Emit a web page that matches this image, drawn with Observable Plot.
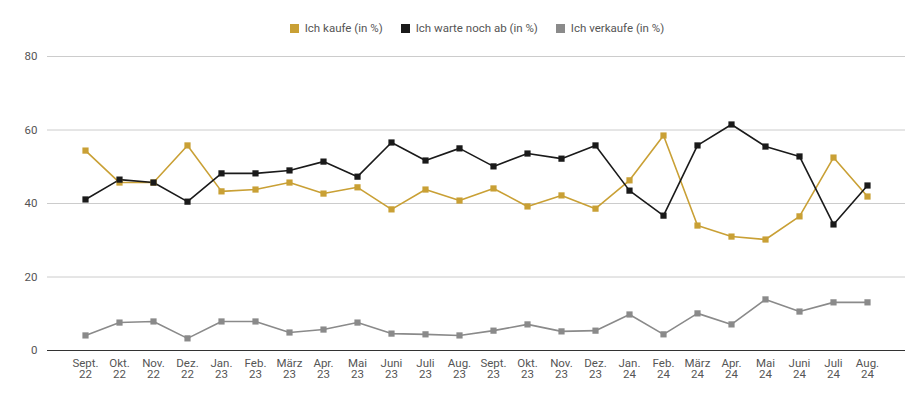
<!DOCTYPE html>
<html><head><meta charset="utf-8">
<script src="https://cdn.jsdelivr.net/npm/d3@7"></script>
<script src="https://cdn.jsdelivr.net/npm/@observablehq/plot@0.6"></script>
<style>
body{margin:0;font-family:Roboto,sans-serif;background:#fff}
#legend{height:40px;display:flex;justify-content:center;align-items:flex-end;gap:18px;font-size:11.5px;color:#555;padding-left:30px;box-sizing:border-box;padding-bottom:5px}
#legend span{display:inline-flex;align-items:center;gap:6px}
#legend i{display:inline-block;width:9px;height:9px}
</style></head><body>
<div id="legend"></div>
<div id="chart"></div>
<script>
const months = ["Sept.\n22","Okt.\n22","Nov.\n22","Dez.\n22","Jan.\n23","Feb.\n23","März\n23","Apr.\n23","Mai\n23","Juni\n23","Juli\n23","Aug.\n23","Sept.\n23","Okt.\n23","Nov.\n23","Dez.\n23","Jan.\n24","Feb.\n24","März\n24","Apr.\n24","Mai\n24","Juni\n24","Juli\n24","Aug.\n24"];
const kaufe = [54.4,45.7,45.7,55.8,43.3,43.8,45.7,42.7,44.4,38.4,43.8,40.8,44.1,39.2,42.2,38.6,46.3,58.5,34.0,31.0,30.2,36.5,52.5,41.9];
const warte = [41.1,46.5,45.7,40.5,48.2,48.2,49.0,51.4,47.3,56.6,51.7,55.0,50.1,53.6,52.2,55.8,43.5,36.7,55.8,61.5,55.5,52.8,34.3,44.9];
const verkaufe = [4.1,7.6,7.9,3.3,7.9,7.9,4.9,5.7,7.6,4.6,4.4,4.1,5.4,7.1,5.2,5.4,9.8,4.4,10.1,7.1,13.9,10.6,13.1,13.1];
const seriesNames = ["Ich kaufe (in %)","Ich warte noch ab (in %)","Ich verkaufe (in %)"];
const colors = ["#c9a035","#1a1a1a","#8a8a8a"];
const all = [kaufe,warte,verkaufe];
const data = all.flatMap((arr,s)=>arr.map((v,i)=>({m:months[i],v,s:seriesNames[s]})));
document.getElementById("legend").innerHTML = seriesNames.map((n,i)=>`<span><i style="background:${colors[i]}"></i>${n}</span>`).join("");
const plot = Plot.plot({
  width:924, height:367,
  marginTop:16, marginBottom:57, marginLeft:47, marginRight:19,
  style:{fontFamily:"Roboto, sans-serif",fontSize:"11.5px",color:"#555"},
  x:{type:"point",domain:months,range:[65,886],label:null,tickSize:0,tickPadding:8},
  y:{domain:[0,80],ticks:[0,20,40,60,80],label:null,tickSize:0,tickPadding:10},
  color:{domain:seriesNames,range:colors},
  marks:[
    Plot.gridY([20,40,60,80],{stroke:"#ccc",strokeOpacity:1}),
    Plot.ruleY([0],{stroke:"#333"}),
    Plot.line(data,{x:"m",y:"v",z:"s",stroke:"s",strokeWidth:1.6}),
    Plot.dot(data,{x:"m",y:"v",fill:"s",symbol:"square",r:3.5})
  ]
});
document.getElementById("chart").appendChild(plot);
</script></body></html>
